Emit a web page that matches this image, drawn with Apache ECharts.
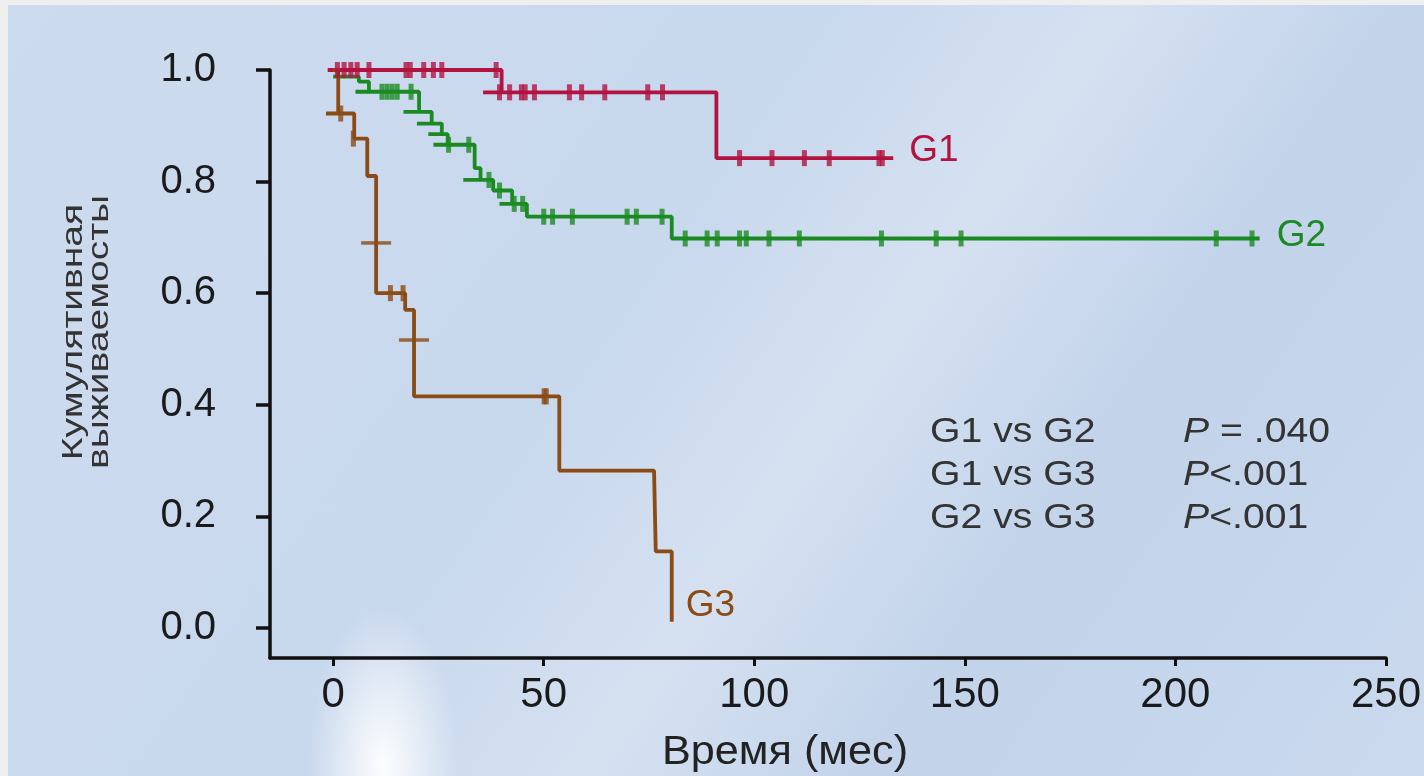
<!DOCTYPE html>
<html><head><meta charset="utf-8">
<script src="https://cdn.jsdelivr.net/npm/echarts@6/dist/echarts.min.js"></script>
<style>
html,body{margin:0;padding:0;background:#efefef;width:1424px;height:776px;overflow:hidden;}
#bg{position:absolute;left:8px;top:5px;width:1416px;height:771px;
background:
 radial-gradient(ellipse 75px 160px at 375px 760px, rgba(255,255,255,0.95), rgba(255,255,255,0) 100%),
 linear-gradient(125deg, #cddbee 0%, #c8d8ed 42%, #d5e1f1 57%, #c2d3ea 72%, #cad9ee 100%);}
#chart{position:absolute;left:0;top:0;width:1424px;height:776px;}
</style></head>
<body><div id="bg"></div><div id="chart"></div>
<script>
// ---- data (time in months, cumulative survival) ----
const xTicks = [0, 50, 100, 150, 200, 250];
const yTicks = [0, 0.2, 0.4, 0.6, 0.8, 1.0];

const g1Time = [-1.3, 40, 40, 35.6, 91, 91, 133];
const g1Surv = [1.0, 1.0, 0.96, 0.96, 0.96, 0.842, 0.842];
const g1CensorTime = [1.0, 2.6, 4.2, 5.7, 8.5, 17.3, 18.3, 21.5, 23.8, 25.8, 38.7,
  39.5, 41.9, 44.7, 45.6, 47.8, 56.1, 59.0, 64.5, 74.7, 78.2,
  96.5, 104.2, 111.9, 117.8, 129.6, 130.4];
const g1CensorSurv = [1.0, 1.0, 1.0, 1.0, 1.0, 1.0, 1.0, 1.0, 1.0, 1.0, 1.0,
  0.96, 0.96, 0.96, 0.96, 0.96, 0.96, 0.96, 0.96, 0.96, 0.96,
  0.842, 0.842, 0.842, 0.842, 0.842, 0.842];

const g2Time = [0, 6.1, 6.1, 8.5, 8.5, 5.3, 20.4, 20.4, 16.7, 23.4, 23.4, 19.9, 25.8, 25.8, 22.6, 27.2,
  27.2, 23.8, 33.6, 33.6, 35.0, 35.0, 30.9, 38.0, 38.0, 42.5, 42.5, 39.5, 46.0, 46.0, 80.4, 80.4, 220];
const g2Surv = [0.988, 0.988, 0.979, 0.979, 0.961, 0.961, 0.961, 0.925, 0.925, 0.925, 0.904, 0.904, 0.904, 0.885, 0.885, 0.885,
  0.866, 0.866, 0.866, 0.824, 0.824, 0.803, 0.803, 0.803, 0.784, 0.784, 0.760, 0.760, 0.760, 0.737, 0.737, 0.698, 0.698];
const g2CensorTime = [11.6, 12.8, 14.0, 15.2, 18.5, 27.4, 32.2, 37.0, 39.5, 43.0, 45.0,
  50.0, 52.1, 56.8, 69.8, 72.0, 78.1,
  83.6, 88.8, 91.2, 96.5, 98.1, 103.5, 110.7, 130.2, 143.2, 149.1, 209.7, 218.2];
const g2CensorSurv = [0.961, 0.961, 0.961, 0.961, 0.961, 0.866, 0.866, 0.803, 0.784, 0.760, 0.760,
  0.737, 0.737, 0.737, 0.737, 0.737, 0.737,
  0.698, 0.698, 0.698, 0.698, 0.698, 0.698, 0.698, 0.698, 0.698, 0.698, 0.698, 0.698];

const g3Time = [0, 1.2, 1.2, -1.7, 5.0, 5.0, 8.1, 8.1, 10.2, 10.2, 17.1, 17.1, 19.2, 19.2, 53.7, 53.7, 76.2, 76.6, 80.4, 80.4];
const g3Surv = [1.0, 1.0, 0.922, 0.922, 0.922, 0.877, 0.877, 0.81, 0.81, 0.60, 0.60, 0.57, 0.57, 0.415, 0.415, 0.282, 0.282, 0.137, 0.137, 0.011];
const g3CensorTime = [1.8, 4.8, 13.6, 16.6, 50.1, 50.6];
const g3CensorSurv = [0.922, 0.877, 0.60, 0.60, 0.415, 0.415];
const g3WideMarkTime = [10.2, 19.2];
const g3WideMarkSurv = [0.69, 0.516];

const groupNames = ['G1', 'G2', 'G3'];
const comparisons = ['G1 vs G2', 'G1 vs G3', 'G2 vs G3'];
const pSymbols = ['P', 'P', 'P'];
const pValues = [' = .040', '<.001', '<.001'];

// ---- styling ----
const C1 = '#b2133f', C2 = '#1b8a22', C3 = '#8a4b14';
const SANS = '"Liberation Sans", Arial, sans-serif';
const zip = (a, b) => a.map((v, i) => [v, b[i]]);

function lineSeries(name, t, s, color, labelOffset) {
  return {
    name, type: 'line', data: zip(t, s), showSymbol: false, symbol: 'none',
    lineStyle: { color, width: 3.8 }, z: 2, animation: false,
    endLabel: { show: true, formatter: name, color, fontSize: 37, fontFamily: SANS,
      distance: 14, offset: labelOffset }
  };
}
function censorSeries(t, s, color, size) {
  return { type: 'scatter', data: zip(t, s), symbol: 'rect', symbolSize: size,
    itemStyle: { color }, z: 3, animation: false, silent: true };
}

const chart = echarts.init(document.getElementById('chart'), null, { renderer: 'canvas' });
const graphics = [
  { type: 'text', x: 87, y: 332, rotation: Math.PI / 2, scaleX: 1.3, scaleY: 1,
    style: { text: 'Кумулятивная\nвыживаемосты', x: 0, y: 0, align: 'center', verticalAlign: 'middle',
      fontSize: 30, fontFamily: SANS, fill: '#333', lineHeight: 26 } },
  { type: 'text', x: 785, y: 753, scaleX: 1.08,
    style: { text: 'Время (мес)', x: 0, y: 0, align: 'center', verticalAlign: 'middle',
      fontSize: 40, fontFamily: SANS, fill: '#222' } }
];
comparisons.forEach((c, i) => {
  graphics.push({ type: 'text', x: 930, y: 432 + 43 * i, scaleX: 1.12,
    style: { text: c, x: 0, y: 0, align: 'left', verticalAlign: 'middle', fontSize: 35, fontFamily: SANS, fill: '#333' } });
  graphics.push({ type: 'text', x: 1183, y: 432 + 43 * i, scaleX: 1.12,
    style: { text: '{i|' + pSymbols[i] + '}{n|' + pValues[i] + '}', x: 0, y: 0, align: 'left', verticalAlign: 'middle',
      fill: '#333', fontSize: 35, fontFamily: SANS,
      rich: { i: { fontStyle: 'italic', fontSize: 35, fontFamily: SANS, fill: '#333' },
              n: { fontSize: 35, fontFamily: SANS, fill: '#333' } } } });
});

chart.setOption({
  backgroundColor: 'transparent',
  animation: false,
  grid: { left: 270, right: 30, top: 70, bottom: 118, containLabel: false },
  xAxis: {
    type: 'value', min: -15, max: 250,
    axisLine: { onZero: false, lineStyle: { color: '#111', width: 3.5 } },
    axisTick: { customValues: xTicks, length: 8, lineStyle: { color: '#111', width: 3 } },
    axisLabel: { customValues: xTicks, fontSize: 42, fontFamily: SANS, color: '#1a1a1a', margin: 16 },
    splitLine: { show: false }
  },
  yAxis: {
    type: 'value', min: -0.054, max: 1.0,
    axisLine: { show: true, onZero: false, lineStyle: { color: '#111', width: 3.5 } },
    axisTick: { show: true, customValues: yTicks, length: 14, lineStyle: { color: '#111', width: 3.5 } },
    axisLabel: { customValues: yTicks, formatter: v => v.toFixed(1), fontSize: 40, fontFamily: SANS,
      color: '#1a1a1a', margin: 54 },
    splitLine: { show: false }
  },
  graphic: graphics,
  series: [
    lineSeries(groupNames[0], g1Time, g1Surv, C1, [2, -7]),
    lineSeries(groupNames[1], g2Time, g2Surv, C2, [3, -3]),
    lineSeries(groupNames[2], g3Time, g3Surv, C3, [0, -16]),
    censorSeries(g1CensorTime, g1CensorSurv, C1, [5, 16]),
    censorSeries(g2CensorTime, g2CensorSurv, C2, [5, 16]),
    censorSeries(g3CensorTime, g3CensorSurv, C3, [5, 16]),
    censorSeries(g3WideMarkTime, g3WideMarkSurv, C3, [30, 3.5])
  ]
});
</script></body></html>
